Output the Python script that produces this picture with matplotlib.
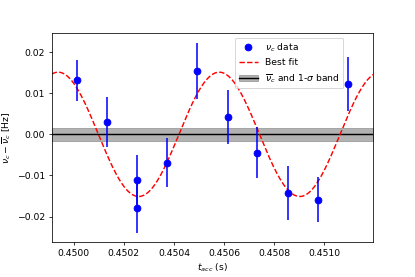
import numpy as np
import matplotlib.pyplot as plt

# measured points (s, Hz)
t_acc = [0.450011, 0.450132, 0.450252, 0.450252, 0.450372, 0.450492,
         0.450615, 0.450733, 0.450856, 0.450977, 0.451097]
dnu = [0.0131, 0.0030, -0.0111, -0.0180, -0.0069, 0.0155,
       0.0042, -0.0045, -0.0143, -0.0159, 0.0122]
dnu_err = [0.0050, 0.0060, 0.0060, 0.0060, 0.0060, 0.0068,
           0.0065, 0.0062, 0.0065, 0.0055, 0.0066]

# best fit parameters
amp = 0.0151
period = 0.000644
t_peak = 0.449937
sigma_band = 0.0016

xlim = (0.449912, 0.451196)
ylim = (-0.02618, 0.02463)

plt.rcParams['font.size'] = 9.6

fig = plt.figure(figsize=(6, 4.005), dpi=415 / 6)
plt.subplots_adjust(left=0.125, right=0.899, top=0.881, bottom=0.126)
ax = plt.gca()

tt = np.linspace(xlim[0], xlim[1], 500)
fit = amp * np.cos(2 * np.pi * (tt - t_peak) / period)

band = ax.fill_between(xlim, -sigma_band, sigma_band, color='gray', alpha=0.6)
mean_line = ax.axhline(0, color='black', lw=1.5)
fit_line, = ax.plot(tt, fit, 'r--', lw=1.5)
data = ax.errorbar(t_acc, dnu, yerr=dnu_err, fmt='o', color='blue',
                   ecolor='blue', elinewidth=1.6, markersize=7)

ax.set_xlim(xlim)
ax.set_ylim(ylim)
ax.set_xticks([0.4500, 0.4502, 0.4504, 0.4506, 0.4508, 0.4510])
ax.set_yticks([-0.02, -0.01, 0.0, 0.01, 0.02])
ax.set_xlabel(r'$t_{acc}$ (s)')
ax.set_ylabel(r'$\nu_c - \overline{\nu}_c$ [Hz]')

ax.legend([data[0], fit_line, (band, mean_line)],
          [r'$\nu_c$ data', 'Best fit', r'$\overline{\nu}_c$ and 1-$\sigma$ band'],
          loc='upper right', bbox_to_anchor=(0.922, 1.0))

plt.savefig('out.png', dpi=415 / 6)
